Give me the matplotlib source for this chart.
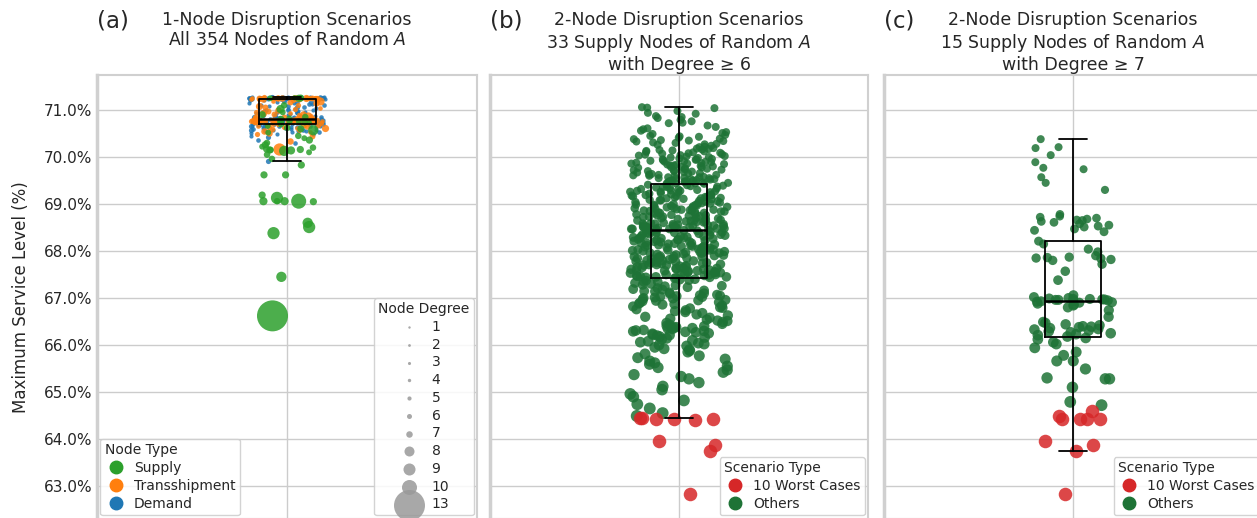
import numpy as np
import matplotlib.pyplot as plt
import seaborn as sns
from matplotlib.lines import Line2D

sns.set_style("whitegrid")
plt.rcParams["font.family"] = ["DejaVu Sans"]

# -----------------------------
# (a) 1-node disruption: max service level per removed node, grouped by degree
# -----------------------------
demand = {
    1: [71.27, 71.26, 71.26, 71.25, 71.27, 71.26, 71.25, 71.26, 71.27, 71.24, 71.26, 71.25,
        71.26, 71.27, 71.25, 71.26, 71.24, 71.26, 71.25, 71.27, 71.26, 71.25, 71.26, 71.24,
        71.27, 71.26, 71.25, 71.26, 71.25, 71.27, 71.26, 71.24, 71.26, 71.25, 71.26,
        71.21, 71.18, 71.15, 71.12, 71.10, 71.08, 71.05, 71.03, 71.00, 70.98, 70.96, 70.94,
        70.92, 70.90, 70.88, 70.86, 70.85, 70.84, 70.83, 70.82, 70.81, 70.80, 70.80, 70.79,
        71.14, 71.02, 70.93, 70.87,
        70.77, 70.77, 70.76, 70.76, 70.75, 70.75, 70.74, 70.74, 70.73, 70.73, 70.72, 70.77,
        70.76, 70.75, 70.74, 70.70, 70.68, 70.67, 70.65, 70.63, 70.61, 70.58, 70.56, 70.53, 70.71,
        70.70, 70.68, 70.66, 70.64, 70.62, 70.60, 70.58, 70.55, 70.52, 70.50, 70.45, 70.69],
    2: [71.26, 71.25, 71.27, 71.26, 71.24, 71.26, 71.25, 71.27, 71.26, 71.25, 71.26, 71.24,
        71.26, 71.27, 71.25, 71.26, 71.25, 71.26, 71.24, 71.26,
        71.22, 71.17, 71.13, 71.09, 71.06, 71.01, 70.97, 70.95, 70.91, 70.89, 70.86, 70.84,
        70.82, 70.81, 70.80, 70.79, 71.11, 70.99,
        70.77, 70.76, 70.76, 70.75, 70.74, 70.74, 70.73, 70.72, 70.77, 70.75, 70.73, 70.76,
        70.69, 70.66, 70.62, 70.57, 70.64, 70.70,
        70.71, 70.67, 70.63, 70.59, 70.56, 70.54, 70.48, 70.36, 70.30],
    3: [71.26, 71.25, 71.26, 71.27, 71.25,
        71.20, 71.07, 70.96, 70.90, 70.85, 70.83, 70.80, 71.16, 70.88,
        70.76, 70.75, 70.74, 70.73, 70.77, 70.75, 70.72,
        70.65, 70.57, 70.42, 69.92],
}

transship = {
    2: [71.26, 71.25, 71.26, 71.27, 71.25, 71.26, 71.24, 71.19, 71.04, 70.93, 70.87, 70.82,
        70.80, 70.78, 70.77, 70.78, 70.76, 70.77, 70.75, 70.78, 70.74, 70.70, 70.66, 70.61, 70.53],
    3: [71.26, 71.25, 71.26, 71.24, 71.26, 71.25, 71.27, 71.21, 71.11, 71.02, 70.95, 70.89,
        70.84, 70.81, 70.79, 70.78, 70.78, 70.77, 70.78, 70.77, 70.76, 70.78, 70.77, 70.75,
        70.73, 70.71, 70.68, 70.63, 70.58, 70.49],
    4: [71.25, 71.26, 71.24, 71.26, 71.25, 71.26, 71.17, 71.06, 70.98, 70.91, 70.85, 70.82,
        70.80, 70.78, 70.78, 70.77, 70.77, 70.78, 70.76, 70.75, 70.74, 70.69, 70.64, 70.60, 70.45],
    5: [71.25, 71.24, 71.26, 71.14, 71.00, 70.92, 70.86, 70.81, 70.78, 70.77, 70.78, 70.76,
        70.77, 70.75, 70.67, 70.55, 70.51, 70.34],
    6: [71.25, 71.24, 71.08, 70.94, 70.78, 70.77, 70.70, 70.62],
    7: [71.20, 70.78, 70.88],
    9: [70.17],
}

supply_vals = [71.26, 71.25, 71.26, 71.24, 71.25, 71.10, 71.02, 70.95, 70.90, 70.85, 70.82,
               70.80, 70.77, 70.76, 70.75, 70.74, 70.73,
               70.70, 70.66, 70.60, 70.57, 70.52, 70.45, 70.40, 70.36, 70.30, 70.26, 70.20,
               70.17, 70.15, 70.14, 70.13, 70.16, 70.15, 70.10, 69.96, 69.83, 69.62, 69.62,
               69.19, 69.06, 69.13, 69.06, 69.06, 69.06, 69.05, 68.60, 68.51, 68.38, 67.45,
               66.62, 70.05, 70.22, 70.62]
supply_degs = [3, 4, 5, 4, 6, 5, 7, 4, 6, 5, 4,
               6, 5, 4, 6, 5, 3,
               5, 4, 6, 8, 4, 5, 4, 6, 5, 6, 5,
               6, 6, 7, 8, 6, 5, 4, 5, 6, 6, 6,
               6, 5, 9, 10, 7, 7, 6, 8, 9, 9, 8,
               13, 5, 4, 5]

degree_legend = [1, 2, 3, 4, 5, 6, 7, 8, 9, 10, 13]

# -----------------------------
# (b) 2-node disruption, 33 supply nodes with degree >= 6
# -----------------------------
b_others = [
    71.06, 71.05, 71.04,
    70.98, 70.94, 70.92, 70.87, 70.85, 70.83, 70.79, 70.76, 70.73, 70.72, 70.67, 70.64,
    70.61, 70.59, 70.56, 70.53, 70.51,
    70.49, 70.47, 70.45, 70.44, 70.41, 70.39, 70.38, 70.36, 70.35, 70.33, 70.31, 70.30,
    70.28, 70.27, 70.24, 70.22, 70.21, 70.19, 70.18, 70.16, 70.15, 70.13, 70.12, 70.11,
    70.09, 70.08, 70.07, 70.06, 70.05, 70.04, 70.03, 70.02, 70.01, 70.00, 70.26, 70.17,
    70.43, 70.10, 70.34, 70.14,
    69.99, 69.98, 69.96, 69.95, 69.94, 69.92, 69.91, 69.90, 69.88, 69.87, 69.86, 69.85,
    69.83, 69.82, 69.81, 69.79, 69.78, 69.77, 69.76, 69.74, 69.73, 69.72, 69.70, 69.69,
    69.68, 69.67, 69.65, 69.64, 69.63, 69.62, 69.60, 69.59, 69.58, 69.57, 69.56, 69.55,
    69.54, 69.53, 69.52, 69.51, 69.50, 69.49, 69.48, 69.47, 69.46, 69.45, 69.44, 69.43,
    69.97, 69.93, 69.89, 69.84, 69.80, 69.75, 69.71, 69.66, 69.61, 69.57, 69.53, 69.49,
    69.46, 69.44, 69.95, 69.86, 69.78, 69.70, 69.62, 69.55, 69.50, 69.45, 69.90, 69.82,
    69.42, 69.40, 69.39, 69.37, 69.36, 69.35, 69.33, 69.31, 69.30, 69.28, 69.27, 69.26,
    69.24, 69.22, 69.21, 69.20, 69.18, 69.17, 69.15, 69.14, 69.12, 69.11, 69.09, 69.08,
    69.07, 69.05, 69.04, 69.02, 69.01, 69.00,
    68.99, 68.97, 68.96, 68.95, 68.93, 68.92, 68.90, 68.89, 68.88, 68.86, 68.85, 68.84,
    68.82, 68.81, 68.80, 68.78, 68.77, 68.76, 68.74, 68.73, 68.72, 68.70, 68.69, 68.68,
    68.66, 68.65, 68.64, 68.62, 68.61, 68.60,
    68.58, 68.57, 68.56, 68.55, 68.54, 68.53, 68.52, 68.51, 68.50, 68.49, 68.48, 68.47,
    68.46, 68.45, 68.50, 68.47, 68.52, 68.49, 68.46, 68.55,
    69.41, 69.38, 69.34, 69.29, 69.25, 69.19, 69.13, 69.06, 68.98, 68.91, 68.83, 68.75,
    68.67, 68.59, 68.53, 68.48, 69.32, 69.23, 69.16, 69.10,
    69.03, 68.94, 68.87, 68.79, 68.71, 68.63, 68.57, 68.51, 69.36, 69.28, 69.18, 69.12,
    69.02, 68.96, 68.88, 68.81, 68.73, 68.65, 68.58, 68.50,
    69.08, 68.92, 68.84, 68.76, 68.69, 68.62, 68.54, 68.47, 69.26, 69.15, 68.98, 68.86,
    68.44, 68.43, 68.42, 68.41, 68.40, 68.38, 68.37, 68.35, 68.34, 68.32, 68.31, 68.29,
    68.28, 68.26, 68.25, 68.23, 68.22, 68.20, 68.19, 68.17,
    68.16, 68.14, 68.13, 68.11, 68.10, 68.08, 68.07, 68.05, 68.04, 68.02, 68.01, 67.99,
    67.98, 67.96, 67.95, 67.93, 67.92, 67.90, 67.89, 67.87,
    67.86, 67.84, 67.83, 67.81, 67.80, 67.78, 67.77, 67.75, 67.74, 67.72, 67.71, 67.69,
    67.68, 67.66, 67.65, 67.63, 67.62, 67.60, 67.59, 67.57,
    67.56, 67.54, 67.53, 67.51, 67.50, 67.48, 67.47, 67.45, 67.44, 67.43, 68.39, 68.33,
    68.27, 68.21, 68.15, 68.09, 68.03, 67.97, 67.91, 67.85,
    67.79, 67.73, 67.67, 67.61, 67.55, 67.49, 68.44, 68.36, 68.30, 68.24, 68.18, 68.12,
    68.06, 68.00, 67.94, 67.88, 67.82, 67.76, 67.70, 67.64,
    67.58, 67.52, 67.46, 68.41, 68.35, 68.28, 68.20, 68.12, 68.03, 67.96, 67.88, 67.80,
    67.71, 67.63, 67.54, 67.47, 68.38, 68.24, 68.10, 67.98,
    67.84, 67.70, 67.58, 67.45, 68.31, 68.17, 68.02, 67.89, 67.75, 67.61, 67.50, 67.44,
    67.42, 67.40, 67.39, 67.37, 67.35, 67.34, 67.32, 67.30, 67.28, 67.27, 67.25, 67.23,
    67.21, 67.19, 67.18, 67.16, 67.14, 67.12, 67.10, 67.09, 67.07, 67.05, 67.03, 67.02,
    67.01, 67.00, 66.99, 67.38, 67.26, 67.15, 67.06, 67.04,
    66.98, 66.96, 66.95, 66.93, 66.91, 66.90, 66.88, 66.86, 66.84, 66.82, 66.80, 66.78,
    66.76, 66.74, 66.72, 66.70, 66.68, 66.65, 66.63, 66.60, 66.58, 66.56, 66.54, 66.52,
    66.51, 66.94, 66.87, 66.79,
    66.49, 66.47, 66.45, 66.43, 66.41, 66.40, 66.38, 66.37, 66.35, 66.34, 66.32, 66.31,
    66.30, 66.28, 66.27, 66.25, 66.24, 66.22, 66.20, 66.18, 66.16, 66.14, 66.12, 66.10,
    66.08, 66.06, 66.04, 66.02, 66.00, 66.36, 66.29, 66.21,
    65.98, 65.95, 65.92, 65.88, 65.85, 65.81, 65.77, 65.73, 65.70, 65.66, 65.62, 65.59,
    65.55, 65.52, 65.90,
    65.47, 65.42, 65.37, 65.33, 65.28, 65.20, 65.12, 65.05,
    64.96, 64.90, 64.82, 64.74, 64.65, 64.55, 64.49,
]
b_worst = [64.44, 64.43, 64.42, 64.42, 64.41, 64.44, 63.96, 63.87, 63.74, 62.83]

# -----------------------------
# (c) 2-node disruption, 15 supply nodes with degree >= 7
# -----------------------------
c_others = [
    70.38, 70.21, 70.19, 70.04, 69.89, 69.77, 69.74, 69.57, 69.45, 69.30, 68.78, 68.74,
    68.72, 68.70, 68.68, 68.66, 68.65, 68.63, 68.61, 68.58, 68.55, 68.53, 68.51, 68.47,
    68.44, 68.41,
    68.21, 68.15, 68.04, 67.98, 67.90, 67.87, 67.86, 67.85, 67.84, 67.82, 67.80, 67.72,
    67.57, 67.38, 67.06, 67.02, 67.00, 66.99, 66.98, 66.98, 66.97, 66.97, 66.96, 66.96,
    66.95, 66.94,
    66.93, 66.92, 66.91, 66.90, 66.88, 66.86, 66.84, 66.80, 66.74, 66.60, 66.49, 66.47,
    66.44, 66.42, 66.40, 66.39, 66.38, 66.36, 66.34, 66.33, 66.31, 66.29, 66.27, 66.25,
    66.23, 66.21,
    66.18, 66.15, 66.12, 66.06, 65.94, 65.85, 65.78, 65.66, 65.66, 65.49, 65.30, 65.28,
    65.28, 65.10, 64.79, 64.72, 66.02,
]
c_worst = [64.60, 64.49, 64.43, 64.43, 64.43, 64.43, 63.96, 63.87, 63.74, 62.83]

# -----------------------------
# Styles
# -----------------------------
type_colors = {"Supply": "#2ca02c", "Transshipment": "#ff7f0e", "Demand": "#1f77b4"}
deg_size = {1: 9, 2: 11, 3: 14, 4: 18, 5: 22, 6: 27, 7: 35, 8: 55, 9: 78, 10: 117, 13: 498}
legend_size = {1: 3, 2: 4, 3: 5, 4: 6, 5: 9, 6: 13, 7: 22, 8: 52, 9: 75, 10: 117, 13: 498}
worst_color = "#d62728"
other_color = "#1e7336"

rng = np.random.default_rng(7)  # only for horizontal jitter


def pair_size(v):
    # scenarios with lower service level drawn a bit bigger
    d = 8.0 + 0.8 * max(0.0, 69.5 - v)
    return (0.72 * d) ** 2


def draw_box(ax, vals):
    ax.boxplot(vals, positions=[0], widths=0.15, showfliers=False, manage_ticks=False,
               boxprops=dict(color="black", lw=1.3), whiskerprops=dict(color="black", lw=1.3),
               capprops=dict(color="black", lw=1.3), medianprops=dict(color="black", lw=1.8),
               zorder=4)


W, H = 1257, 518
fig = plt.figure(figsize=(W / 100, H / 100), dpi=100)
bottom = (H - 518.9) / H
height = (518.9 - 75) / H
ax_a = fig.add_axes([97 / W, bottom, 380 / W, height])
ax_b = fig.add_axes([490 / W, bottom, 378 / W, height])
ax_c = fig.add_axes([884 / W, bottom, 378 / W, height])

for ax in (ax_a, ax_b, ax_c):
    ax.set_xlim(-0.5, 0.5)
    ax.set_ylim(62.3, 71.745)
    ax.set_xticks([0])
    ax.set_xticklabels([])
    ax.set_yticks(np.arange(63, 72, 1))
    ax.tick_params(length=0)
    ax.grid(True, color="#cccccc", lw=1.0)
    for sp in ax.spines.values():
        sp.set_color("#d0d0d0")
        sp.set_linewidth(1.5)
    ax.spines["left"].set_linewidth(2.5)

ax_a.set_yticklabels([f"{v:.1f}%" for v in range(63, 72)], fontsize=11)
ax_b.set_yticklabels([])
ax_c.set_yticklabels([])
ax_a.set_ylabel("Maximum Service Level (%)", fontsize=12, labelpad=10)

# ---- panel (a)
all_a = []
for name, groups in (("Demand", demand), ("Transshipment", transship)):
    for deg, vals in groups.items():
        x = rng.uniform(-0.1, 0.1, len(vals))
        ax_a.scatter(x, vals, s=deg_size[deg], color=type_colors[name], alpha=0.85,
                     lw=0, zorder=2)
        all_a += vals
sx = rng.uniform(-0.07, 0.07, len(supply_vals))
ax_a.scatter(sx, supply_vals, s=[deg_size[d] for d in supply_degs],
             color=type_colors["Supply"], alpha=0.85, lw=0, zorder=3)
all_a += supply_vals
draw_box(ax_a, all_a)

type_handles = [Line2D([], [], marker="o", ls="", ms=9, color=type_colors[n], label=n)
                for n in ("Supply", "Transshipment", "Demand")]
leg1 = ax_a.legend(handles=type_handles, title="Node Type", loc="lower left", fontsize=10,
                   title_fontsize=10, alignment="left", handlelength=1.6, handletextpad=0.5,
                   labelspacing=0.3, borderaxespad=0.25, borderpad=0.3,
                   edgecolor="#cccccc", framealpha=0.85)
ax_a.add_artist(leg1)
deg_handles = [ax_a.scatter([], [], s=legend_size[d], color="#999999", alpha=0.85, lw=0,
                            label=str(d)) for d in degree_legend]
ax_a.legend(handles=deg_handles, title="Node Degree", loc="lower right", fontsize=10,
            title_fontsize=10, handlelength=1.6, handletextpad=0.8, labelspacing=0.27,
            borderaxespad=0.25, borderpad=0.3, edgecolor="#cccccc", framealpha=0.85)

# ---- panels (b) and (c)
for ax, others, worst, jit in ((ax_b, b_others, b_worst, 0.13), (ax_c, c_others, c_worst, 0.105)):
    ox = rng.uniform(-jit, jit, len(others))
    ax.scatter(ox, others, s=[pair_size(v) for v in others], color=other_color,
               alpha=0.85, lw=0, zorder=2)
    wx = rng.uniform(-jit * 0.8, jit * 0.8, len(worst))
    ax.scatter(wx, worst, s=95, color=worst_color, alpha=0.85, lw=0, zorder=3)
    draw_box(ax, others + worst)
    sc_handles = [Line2D([], [], marker="o", ls="", ms=9, color=worst_color, label="10 Worst Cases"),
                  Line2D([], [], marker="o", ls="", ms=9, color=other_color, label="Others")]
    ax.legend(handles=sc_handles, title="Scenario Type", loc="lower right", fontsize=10,
              title_fontsize=10, alignment="left", handlelength=1.6, handletextpad=0.5,
              labelspacing=0.3, borderaxespad=0.25, borderpad=0.3,
              edgecolor="#cccccc", framealpha=0.85)

# ---- titles
titles = [
    (ax_a, "(a)", "1-Node Disruption Scenarios\nAll 354 Nodes of Random $A$"),
    (ax_b, "(b)", "2-Node Disruption Scenarios\n33 Supply Nodes of Random $A$\nwith Degree \u2265 6"),
    (ax_c, "(c)", "2-Node Disruption Scenarios\n15 Supply Nodes of Random $A$\nwith Degree \u2265 7"),
]
for ax, tag, txt in titles:
    pos = ax.get_position()
    fig.text(pos.x0 + pos.width / 2, 1 - 11 / H, txt, ha="center", va="top",
             fontsize=12.5, linespacing=1.17, color="#262626")
    fig.text(pos.x0, 1 - 9 / H, tag, ha="left", va="top", fontsize=16.5, color="#262626")

fig.savefig("out.png", dpi=100)
